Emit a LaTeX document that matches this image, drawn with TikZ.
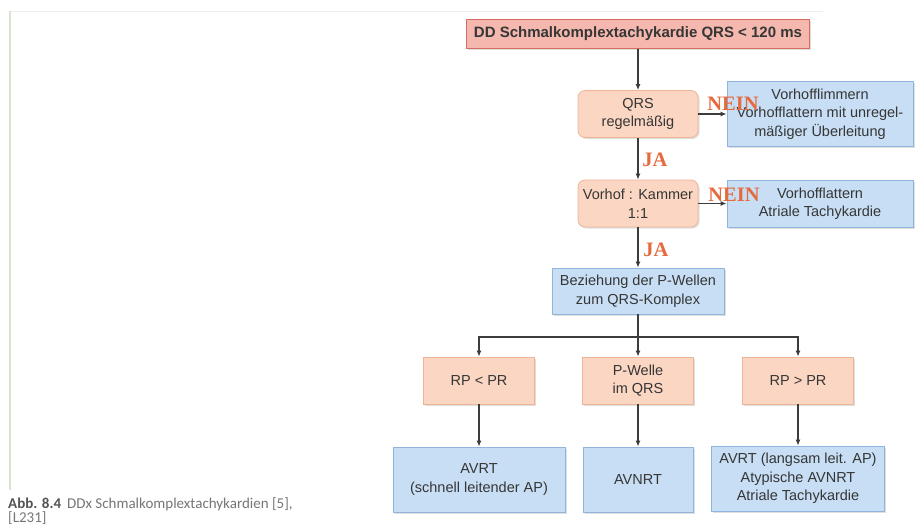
\documentclass[tikz,border=0pt]{standalone}
\usepackage{fontspec}
\setmainfont{Liberation Sans}
\newfontfamily\labelfont{Liberation Serif}
\newfontfamily\capfont{Carlito}
\usetikzlibrary{arrows.meta,shadows}

\definecolor{headfill}{HTML}{F5B8AE}
\definecolor{headline}{HTML}{D66C60}
\definecolor{askfill}{HTML}{FBD6C2}
\definecolor{askline}{HTML}{EFB495}
\definecolor{ansfill}{HTML}{C7DEF4}
\definecolor{ansline}{HTML}{8FB5DC}
\definecolor{boxtext}{HTML}{363636}
\definecolor{arrowgray}{HTML}{3C3C3C}
\definecolor{labelred}{HTML}{E66A3E}
\definecolor{capgray}{HTML}{767676}

\begin{document}
\begin{tikzpicture}[x=1pt,y=-1pt,
  every node/.style={align=center,text=boxtext,inner sep=1pt,
    font=\fontsize{14.5}{18.5}\selectfont},
  shade/.style={drop shadow={opacity=0.25,shadow xshift=1.5pt,shadow yshift=-1.5pt}},
  headbox/.style={shade,draw=headline,fill=headfill,line width=1pt,
    minimum width=343pt,minimum height=29pt,
    font=\bfseries\fontsize{15}{18}\selectfont},
  askbox/.style={shade,draw=askline,fill=askfill,line width=0.8pt,
    rounded corners=7pt,minimum height=47pt},
  ansbox/.style={shade,draw=ansline,fill=ansfill,line width=0.8pt},
  pickbox/.style={shade,draw=askline,fill=askfill,line width=0.8pt,
    minimum width=111pt,minimum height=47pt},
  yesno/.style={text=labelred,inner sep=0pt,
    font=\labelfont\bfseries\fontsize{20.5}{21}\selectfont},
  arr/.style={draw=arrowgray,line width=1.5pt,-{Latex[length=6pt,width=5pt]}}]

  \useasboundingbox[fill=white] (0,0) rectangle (915,530);

  % page edge of the scan
  \draw[draw={rgb,255:red,214;green,230;blue,206},line width=1.5pt] (10,11) -- (10,490);
  \draw[draw={rgb,255:red,238;green,238;blue,238},line width=1pt] (11,11) -- (823,11);

  % Specification of nodes (position, etc.)
  \node[headbox] (t) at (638,33.5) {DD Schmalkomplextachykardie QRS < 120 ms};
  \node[askbox,minimum width=120pt] (q0) at (638,114) {QRS\\regelmäßig};
  \node[ansbox,minimum width=186pt,minimum height=65pt] (n0) at (820,114)
    {Vorhofflimmern\\Vorhofflattern mit unregel-\\mäßiger Überleitung};
  \node[askbox,minimum width=120pt] (q1) at (638,203.5) {Vorhof : Kammer\\1:1};
  \node[ansbox,minimum width=186pt,minimum height=47pt] (n1) at (820,203.5)
    {Vorhofflattern\\Atriale Tachykardie};
  \node[ansbox,minimum width=172pt,minimum height=46pt] (b) at (638,291)
    {Beziehung der P-Wellen\\zum QRS-Komplex};
  \node[pickbox] (r0) at (479,380.5) {RP < PR};
  \node[pickbox] (r1) at (638,380.5) {P-Welle\\im QRS};
  \node[pickbox] (r2) at (798,380.5) {RP > PR};
  \node[ansbox,minimum width=172pt,minimum height=65pt] (e0) at (479,479.5)
    {AVRT\\(schnell leitender AP)};
  \node[ansbox,minimum width=110pt,minimum height=65pt] (e1) at (638,479.5) {AVNRT};
  \node[ansbox,minimum width=173pt,minimum height=65pt] (e2) at (798,478.5)
    {AVRT (langsam leit. AP)\\Atypische AVNRT\\Atriale Tachykardie};
  \coordinate (k) at (638,337);

  \begin{scope}
    \draw[arr] (t) -- (q0);
    \draw[arr] (q0) -- (q1);
    \draw[arr] (q1) -- (b);
    \draw[arr] (q0) -- (n0);
    \draw[arr] (q1) -- (n1);
    \draw[arr] (b) -- (k) -- (r1);
    \draw[arr] (k) -| (r0);
    \draw[arr] (k) -| (r2);
    \draw[arr] (r0) -- (e0);
    \draw[arr] (r1) -- (e1);
    \draw[arr] (r2) -- (e2);
  \end{scope}

  % JA / NEIN
  \node[yesno] (no0) at (733,104) {NEIN};
  \node[yesno] (no1) at (734,195) {NEIN};
  \node[yesno] (yes0) at (655,160) {JA};
  \node[yesno] (yes1) at (656,250) {JA};

  % caption
  \node[anchor=west,align=left,inner sep=0pt,text=capgray,
    font=\capfont\fontsize{15}{14}\selectfont] (cap) at (8,511)
    {{\bfseries\color{boxtext!85}Abb. 8.4}\hspace{6pt}DDx Schmalkomplextachykardien [5],\\{}[L231]};

\end{tikzpicture}
\end{document}
